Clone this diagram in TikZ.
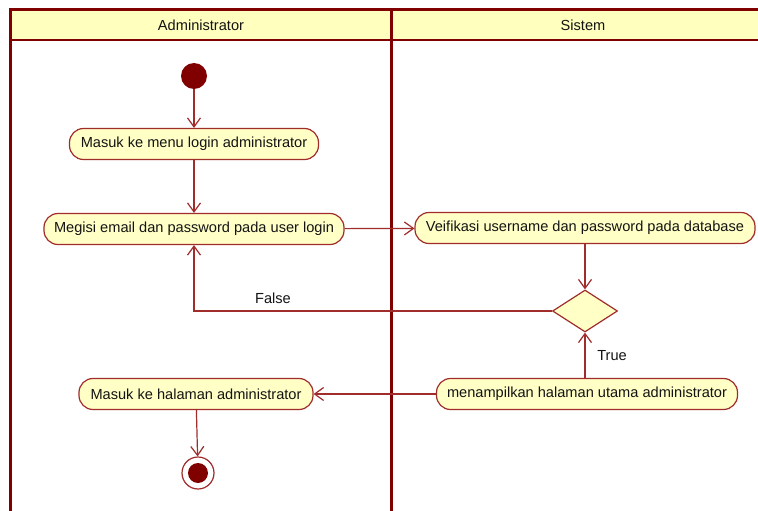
\documentclass[tikz,border=0pt]{standalone}
\usepackage{fontspec}
\setmainfont{Liberation Sans}
\usetikzlibrary{arrows.meta,shapes.geometric}
\definecolor{frame}{HTML}{800000}
\definecolor{edgec}{HTML}{A02C2C}
\definecolor{actfill}{HTML}{FFFFC6}
\definecolor{hdrfill}{HTML}{FFFFBE}
\definecolor{txt}{HTML}{141414}
\begin{document}
\begin{tikzpicture}[x=1pt,y=-1pt,
  font=\fontsize{14.6}{16}\selectfont,
  act/.style={draw=edgec, fill=actfill, line width=1.2pt, rounded corners=14pt,
    minimum height=31pt, inner sep=0pt, text=txt},
  flow/.style={draw=edgec, line width=1.2pt, -{Straight Barb[length=9pt,width=13pt]}},
  lbl/.style={text=txt, inner sep=0pt},
  lanehdr/.style={text=txt, inner sep=0pt}]
\useasboundingbox (0,0) rectangle (758,511);
% swimlanes
\fill[white] (0,0) rectangle (758,511);
\fill[hdrfill] (10,10) rectangle (780,40);
\draw[frame, line width=2pt] (10,40) -- (780,40);
\draw[frame, line width=3pt] (10,540) -- (10,10) -- (780,10);
\draw[frame, line width=3.5pt] (391.5,10) -- (391.5,540);
\node[lanehdr] (hA) at (201,25) {Administrator};
\node[lanehdr] (hS) at (583,25) {Sistem};
% nodes
\node[circle, fill=frame, minimum size=26pt, inner sep=0pt] (start) at (194,76) {};
\node[act, minimum width=249pt] (n1) at (194,144) {Masuk ke menu login administrator};
\node[act, minimum width=300pt] (n2) at (194,229) {Megisi email dan password pada user login};
\node[act, minimum width=340pt] (n3) at (585,228) {Veifikasi username dan password pada database};
\node[diamond, draw=edgec, fill=actfill, line width=1.2pt, minimum width=65pt,
  minimum height=42pt, inner sep=0pt] (dec) at (585,311) {};
\node[act, minimum width=301pt] (n4) at (587,394) {menampilkan halaman utama administrator};
\node[act, minimum width=234pt] (n5) at (196,394) {Masuk ke halaman administrator};
\node[circle, draw=edgec, fill=white, line width=1.2pt, minimum size=32pt, inner sep=0pt] (endo) at (198,473) {};
\node[circle, fill=frame, minimum size=20pt, inner sep=0pt] (endi) at (endo.center) {};
\node[lbl] (fl) at (273,298) {False};
\node[lbl] (tl) at (612,356) {True};
% connectors
\draw[flow] (start) -- (n1);
\draw[flow] (n1) -- (n2);
\draw[flow] (n2) -- (n3);
\draw[flow] (n3.south -| dec.north) -- (dec.north);
\draw[flow] (dec.west) -| (n2.south);
\draw[flow] (n4.north -| dec.south) -- (dec.south);
\draw[flow] (n4) -- (n5);
\draw[flow] (n5) -- (endo);
\end{tikzpicture}
\end{document}
